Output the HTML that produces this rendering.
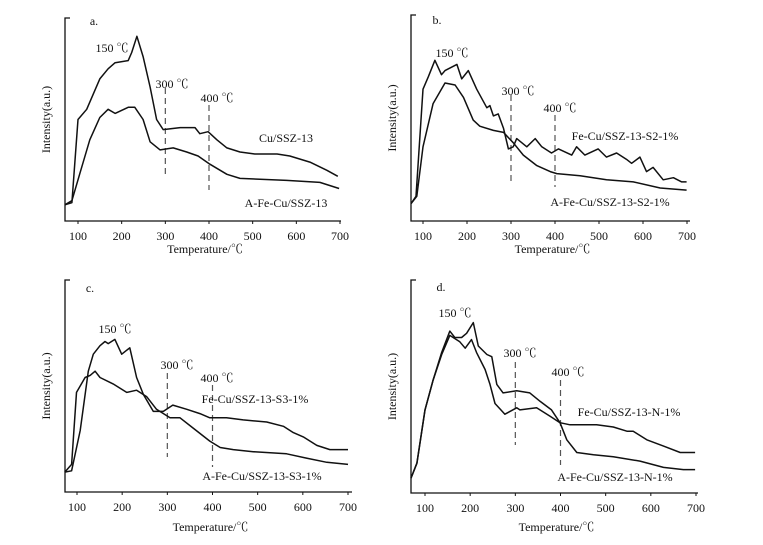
<!DOCTYPE html>
<html><head><meta charset="utf-8"><style>
html,body{margin:0;padding:0;background:#fff;}
svg{display:block;font-family:"Liberation Serif","Noto Serif CJK SC",serif;}
</style></head><body>
<svg id="fig" width="763" height="545" viewBox="0 0 763 545"></svg>
<script>
// ---- data (temperature °C, intensity as % of axis height) ----
const aCuT = [70,86,100,120,150,169,185,215,223,235,249,265,280,295,334,357,368,379,398,418,441,471,505,556,585,631,670,695];
const aCuV = [8,9,50,55,70,75,78,79,83,91,81,66,50,45,46,46,46,43,44,40,36,34,33,33,32,29,25,22];
const aAT = [70,86,105,127,150,169,185,215,230,249,265,288,318,349,375,402,441,471,578,654,698];
const aAV = [8,10,24,40,51,55,53,56,56,50,39,35,36,34,32,28,23,21,20,19,16];

const bFeT = [73,84,100,112,127,142,150,177,188,203,222,245,252,260,271,283,294,305,313,336,355,370,392,408,438,449,468,498,517,540,562,574,593,608,623,646,669,688,699];
const bFeV = [8.5,12,64,70,78,71,73,76,69,73,64,55,56,51,52,45,35,36,40,36,40,36,33,35,32,36,32,35,31,33,30,28,31,24,26,20,21,19,19];
const bAT = [73,86,100,123,150,173,192,214,229,260,283,305,328,358,389,404,457,517,578,639,699];
const bAV = [8.5,12,36,57,67,66,60,49,46,44,43,38,32,27,24,23,22,20,19,16,15];

const cFeT = [73,88,107,125,136,151,162,169,184,199,217,232,247,269,291,312,343,372,394,431,468,520,557,579,601,631,660,700];
const cFeV = [9.4,10,29,57,65,69,71,70,72,65,68,54,46,38,38,41,39,37,35,35,34,33,31,28,26,22,20,20];
const cAT = [73,88,99,118,129,140,151,180,210,232,254,276,306,328,358,394,417,446,490,564,608,653,700];
const cAV = [9.4,13,47,54,55,57,54,51,47,48,45,39,35,35,30,24,21,20,19,18,16,14,13];

const dFeT = [69,82,100,118,137,155,166,181,192,207,218,237,248,259,273,303,332,355,380,399,421,480,517,547,561,591,628,665,698];
const dFeV = [7,14,39,53,66,76,73,73,75,80,69,65,64,51,47,48,47,43,39,33,32,32,31,29,29,25,22,19,19];
const dAT = [69,82,100,118,137,155,177,189,203,214,233,244,255,277,303,310,347,377,399,414,436,473,517,576,628,672,698];
const dAV = [7,14,39,53,65,74,71,68,72,66,58,51,42,37,40,39,40,36,33,25,19,18,17,15,12,11,11];

const xTicks = [100,200,300,400,500,600,700];
const markers = [300,400];

const NS = "http://www.w3.org/2000/svg";
const svg = document.getElementById('fig');
function mk(tag, attrs, parent){
  const e = document.createElementNS(NS, tag);
  for (const k in attrs) e.setAttribute(k, attrs[k]);
  (parent||svg).appendChild(e);
  return e;
}
function txt(s, x, y, parent, anchor){
  const t = mk('text', {x:x, y:y, 'font-size':12, fill:'#111', 'text-anchor':anchor||'middle'}, parent);
  t.textContent = s;
  return t;
}

const panels = [
  {id:'a', left:65, right:341, top:18, bottom:221, p100:78, p700:340, tdy:32, series:[[aCuT,aCuV,'cu-ssz13-curve'],[aAT,aAV,'a-fe-cu-ssz13-curve']],
   dash:[[88,176],[105,190]], lbl:[['150 ℃',112,52],['300 ℃',172,88],['400 ℃',217,102]],
   names:[['Cu/SSZ-13',286,142],['A-Fe-Cu/SSZ-13',286,207]], tag:[94,25]},
  {id:'b', left:411, right:690, top:15, bottom:221, p100:423, p700:687, tdy:32, series:[[bFeT,bFeV,'fe-cu-s2-curve'],[bAT,bAV,'a-fe-cu-s2-curve']],
   dash:[[95,182],[115,187]], lbl:[['150 ℃',452,57],['300 ℃',518,95],['400 ℃',560,112]],
   names:[['Fe-Cu/SSZ-13-S2-1%',625,140],['A-Fe-Cu/SSZ-13-S2-1%',610,206]], tag:[437,24]},
  {id:'c', left:65, right:352, top:280, bottom:492, p100:77, p700:348, tdy:39, series:[[cFeT,cFeV,'fe-cu-s3-curve'],[cAT,cAV,'a-fe-cu-s3-curve']],
   dash:[[373,457],[385,467]], lbl:[['150 ℃',115,333],['300 ℃',177,369],['400 ℃',217,382]],
   names:[['Fe-Cu/SSZ-13-S3-1%',255,403],['A-Fe-Cu/SSZ-13-S3-1%',262,480]], tag:[90,292]},
  {id:'d', left:411, right:698, top:280, bottom:493, p100:425, p700:696, tdy:38, series:[[dFeT,dFeV,'fe-cu-n-curve'],[dAT,dAV,'a-fe-cu-n-curve']],
   dash:[[362,445],[380,465]], lbl:[['150 ℃',455,317],['300 ℃',520,357],['400 ℃',568,376]],
   names:[['Fe-Cu/SSZ-13-N-1%',629,416],['A-Fe-Cu/SSZ-13-N-1%',615,481]], tag:[441,291]}
];

panels.forEach(p=>{
  const g = mk('g', {});
  
  
  const sx = T => p.p100 + (T-100)*(p.p700-p.p100)/600;
  const sy = v => p.bottom - v/100*(p.bottom-p.top);
  const ax = mk('path', {d:`M${p.left+5},${p.top} H${p.left} V${p.bottom} H${p.right}`, fill:'none', stroke:'#111', 'stroke-width':1.3}, g);
  
  
  xTicks.forEach(t=>{
    mk('line', {x1:sx(t), x2:sx(t), y1:p.bottom, y2:p.bottom+3, stroke:'#111', 'stroke-width':1}, g);
    const tl = txt(String(t), sx(t), p.bottom+19, g);
    
    
  });
  const xt = txt('Temperature/℃', (p.left+p.right)/2 + 2, p.bottom + p.tdy, g);
  
  
  const cy = (p.top+p.bottom)/2;
  const yt = mk('text', {x:0, y:0, 'font-size':12, fill:'#111', 'text-anchor':'middle', transform:`translate(${p.left-15},${cy}) rotate(-90)`}, g);
  yt.textContent = 'Intensity(a.u.)';
  
  
  const tg = txt(p.id + '.', p.tag[0], p.tag[1], g);
  
  
  markers.forEach((m,i)=>{
    const dl = mk('line', {x1:sx(m), x2:sx(m), y1:p.dash[i][0], y2:p.dash[i][1], stroke:'#555', 'stroke-width':1.2, 'stroke-dasharray':'6,4'}, g);
    
    
  });
  p.lbl.forEach(l=>{
    const e = txt(l[0], l[1], l[2], g);
    
    
  });
  p.series.forEach(s=>{
    const T = s[0], V = s[1];
    let d = '';
    T.forEach((t,i)=>{ d += (i?'L':'M') + sx(t).toFixed(1) + ',' + sy(V[i]).toFixed(1); });
    const path = mk('path', {d:d, fill:'none', stroke:'#111', 'stroke-width':1.5, 'stroke-linejoin':'round'}, g);
    
    
  });
  p.names.forEach(n=>{
    const e = txt(n[0], n[1], n[2], g);
    
    
  });
});
</script>
</body></html>
